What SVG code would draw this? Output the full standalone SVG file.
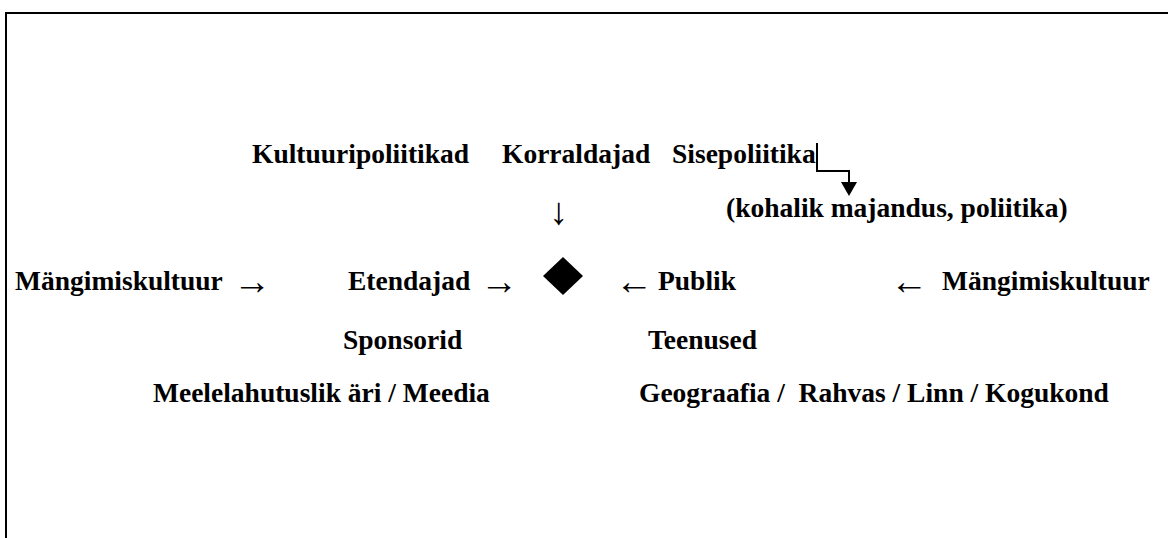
<svg xmlns="http://www.w3.org/2000/svg" width="1168" height="538" viewBox="0 0 1168 538">
<style>
.t{font-family:"Liberation Serif","Times New Roman",serif;font-weight:bold;font-size:27.5px;fill:#000;white-space:pre}
.a{font-family:"Liberation Serif","Times New Roman",serif;font-size:38px;fill:#000}
.ln{fill:none;stroke:#000;stroke-width:2}
</style>
<rect width="1168" height="538" fill="#fff"/>
<path class="ln" d="M6,538 V13 H1168" stroke-width="2.5"/>
<g id="kultuuripoliitikad"><text class="t" x="252" y="163">Kultuuripoliitikad</text></g>
<g id="korraldajad"><text class="t" x="502" y="163">Korraldajad</text></g>
<g id="sisepoliitika"><text class="t" x="672" y="163">Sisepoliitika</text></g>
<g id="kohalik"><text class="t" x="726" y="217">(kohalik majandus, poliitika)</text></g>
<g id="center"><polygon points="563,257 583,276 563,295 543,276" fill="#000"/></g>
<g id="mangimiskultuur-left"><text class="t" x="15" y="290">Mängimiskultuur</text></g>
<g id="etendajad"><text class="t" x="348" y="290">Etendajad</text></g>
<g id="publik"><text class="t" x="658" y="290">Publik</text></g>
<g id="mangimiskultuur-right"><text class="t" x="942" y="290">Mängimiskultuur</text></g>
<g id="sponsorid"><text class="t" x="343" y="349">Sponsorid</text></g>
<g id="teenused"><text class="t" x="648" y="349">Teenused</text></g>
<g id="meelelahutuslik"><text class="t" x="153" y="402">Meelelahutuslik äri / Meedia</text></g>
<g id="geograafia"><text class="t" x="639" y="402">Geograafia /  Rahvas / Linn / Kogukond</text></g>
<g id="connectors">
<text class="a" x="549" y="224">↓</text>
<text class="a" x="233" y="294">→</text>
<text class="a" x="480" y="294">→</text>
<text class="a" x="615" y="294">←</text>
<text class="a" x="890" y="294">←</text>
<path class="ln" d="M817,143 V171 H849 V183"/>
<polygon points="841,182 857,182 849,196" fill="#000"/>
</g>
</svg>
